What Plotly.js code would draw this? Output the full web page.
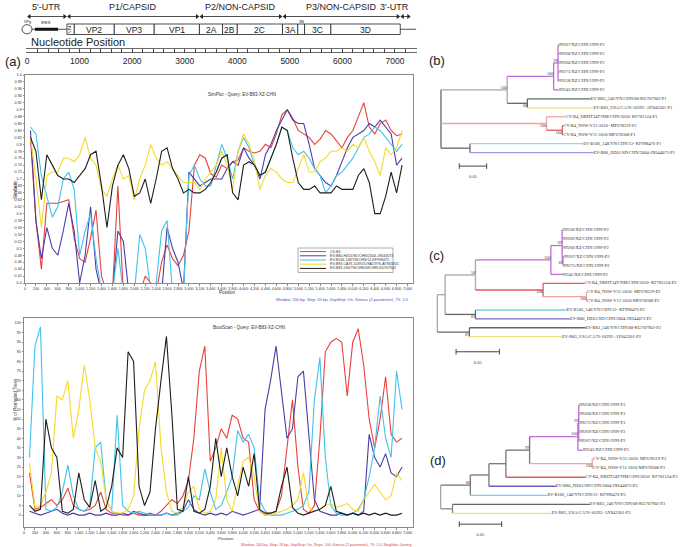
<!DOCTYPE html>
<html>
<head>
<meta charset="utf-8">
<script src="https://cdn.plot.ly/plotly-3.0.1.min.js"></script>
<style>
html,body{margin:0;padding:0;background:#fff;}
#chart{width:685px;height:547px;}
</style>
</head>
<body>
<div id="chart"></div>
<script>
// ================= DATA =================
// --- genome map ---
const regionNames = ["5'-UTR", "P1/CAPSID", "P2/NON-CAPSID", "P3/NON-CAPSID", "3'-UTR"];
const regionStart = [0, 760, 3280, 4860, 7100];
const regionEnd   = [760, 3280, 4860, 7100, 7300];
const geneNames = ["4", "VP2", "VP3", "VP1", "2A", "2B", "2C", "3A", "3B", "3C", "3D"];
const geneStart = [760, 900, 1660, 2420, 3280, 3720, 4000, 4860, 5150, 5280, 5780];
const geneEnd   = [900, 1660, 2420, 3280, 3720, 4000, 4860, 5150, 5280, 5780, 7100];
const iresStart = 150, iresEnd = 590, genomeTail = 7400;
const rulerTicks = [0, 1000, 2000, 3000, 4000, 5000, 6000, 7000];

// --- SimPlot / BootScan ---
const position = [100,200,300,400,500,600,700,800,900,1000,
  1100,1200,1300,1400,1500,1600,1700,1800,1900,2000,
  2100,2200,2300,2400,2500,2600,2700,2800,2900,3000,
  3100,3200,3300,3400,3500,3600,3700,3800,3900,4000,
  4100,4200,4300,4400,4500,4600,4700,4800,4900,5000,
  5100,5200,5300,5400,5500,5600,5700,5800,5900,6000,
  6100,6200,6300,6400,6500,6600,6700,6800,6900];
const seriesNames = ["CV-B4", "EV-B80-HZ01/SD/CHN/2004-JX644073", "EV-B106-148/YN/CHN/12-KF998475",
  "EV-B83-CA76-10392/USA/1976-AY843301", "EV-B83-246/YN/CHN/08/CHN-KU707902"];

const simCVB4 = [0.82,0.58,0.44,0.63,0.63,0.63,0.635,0.64,0.53,0.47,
  0.46,0.53,0.61,0.42,0.37,0.37,0.68,0.37,0.37,0.37,
  0.37,0.42,0.40,0.37,0.46,0.51,0.47,0.45,0.48,0.55,
  0.74,0.77,0.76,0.715,0.705,0.74,0.73,0.75,0.755,0.79,
  0.78,0.775,0.78,0.80,0.79,0.83,0.885,0.90,0.875,0.84,
  0.83,0.82,0.80,0.815,0.84,0.83,0.81,0.79,0.82,0.84,
  0.88,0.92,0.85,0.83,0.86,0.87,0.84,0.825,0.83];
const simEVB80 = [0.84,0.58,0.47,0.56,0.50,0.48,0.55,0.63,0.55,0.40,
  0.48,0.62,0.44,0.37,0.37,0.37,0.55,0.52,0.37,0.37,
  0.37,0.37,0.37,0.37,0.37,0.56,0.50,0.46,0.38,0.72,
  0.70,0.68,0.69,0.70,0.70,0.70,0.73,0.75,0.74,0.79,
  0.76,0.74,0.70,0.77,0.80,0.84,0.87,0.90,0.87,0.86,
  0.86,0.80,0.73,0.71,0.69,0.68,0.71,0.75,0.79,0.82,
  0.83,0.84,0.86,0.85,0.87,0.85,0.83,0.74,0.76];
const simEVB106 = [0.85,0.83,0.71,0.65,0.59,0.62,0.70,0.72,0.67,0.48,
  0.55,0.60,0.47,0.38,0.37,0.37,0.50,0.37,0.37,0.37,
  0.54,0.50,0.38,0.40,0.55,0.58,0.37,0.37,0.37,0.71,
  0.74,0.70,0.68,0.68,0.74,0.80,0.76,0.70,0.78,0.82,
  0.79,0.74,0.71,0.72,0.76,0.80,0.85,0.84,0.79,0.77,
  0.78,0.76,0.73,0.71,0.66,0.68,0.71,0.72,0.74,0.76,
  0.79,0.82,0.83,0.85,0.84,0.82,0.80,0.78,0.80];
const simEVB83CA = [0.82,0.70,0.56,0.71,0.72,0.72,0.76,0.76,0.75,0.77,
  0.82,0.76,0.74,0.67,0.65,0.70,0.74,0.70,0.71,0.64,
  0.70,0.74,0.80,0.76,0.74,0.75,0.73,0.71,0.69,0.69,
  0.69,0.67,0.70,0.72,0.74,0.78,0.74,0.67,0.78,0.83,
  0.80,0.75,0.67,0.71,0.73,0.72,0.70,0.69,0.69,0.73,
  0.77,0.72,0.72,0.75,0.76,0.78,0.78,0.79,0.78,0.80,
  0.79,0.82,0.78,0.75,0.71,0.79,0.77,0.79,0.84];
const simEVB83YN = [0.82,0.78,0.64,0.77,0.74,0.71,0.70,0.70,0.69,0.71,
  0.73,0.77,0.78,0.68,0.56,0.68,0.74,0.77,0.73,0.65,
  0.66,0.70,0.63,0.70,0.78,0.79,0.73,0.70,0.66,0.67,
  0.66,0.66,0.67,0.69,0.72,0.76,0.77,0.66,0.64,0.74,
  0.75,0.74,0.71,0.72,0.76,0.80,0.85,0.84,0.76,0.69,
  0.67,0.67,0.68,0.66,0.66,0.66,0.68,0.67,0.67,0.67,
  0.71,0.73,0.69,0.60,0.60,0.65,0.72,0.66,0.74];

const bootCVB4 = [22,3,4,6,8,5,8,14,5,3, 2,3,5,12,3,1,1,0,0,1, 0,0,1,0,2,5,8,6,10,18,
  40,75,88,28,35,45,40,52,50,40, 38,8,2,0,1,2,10,35,60,25, 3,1,5,40,85,90,92,90,62,90,
  97,78,50,35,50,72,42,38,40];
const bootEVB80 = [2,1,0,1,2,3,1,0,1,0, 0,1,0,0,1,0,0,1,0,2, 1,0,0,0,0,1,0,1,2,8,
  3,1,0,1,0,1,0,2,1,0, 1,2,3,55,70,88,65,40,45,72, 75,40,8,2,1,0,0,1,0,1,
  0,2,42,30,25,32,22,20,25];
const bootEVB106 = [30,88,98,3,2,4,12,26,10,3, 2,5,35,38,8,2,52,5,2,1, 2,1,0,0,0,1,0,0,2,4,
  10,8,24,12,3,5,12,20,44,38, 42,35,8,2,0,0,0,1,2,3, 5,12,60,82,30,5,1,0,0,1,
  3,8,20,35,62,40,30,75,55];
const bootEVB83CA = [27,4,5,12,22,62,60,70,40,55, 78,60,35,28,8,2,1,1,3,10, 45,65,70,80,35,12,2,1,4,12,
  15,3,1,2,8,35,8,2,15,28, 30,20,2,0,0,1,2,3,5,8, 22,4,2,3,5,6,4,5,6,3,
  2,8,12,16,12,8,10,22,18];
const bootEVB83YN = [5,2,3,50,35,30,2,1,3,22, 8,4,18,2,4,15,35,30,85,80, 15,5,12,45,70,93,52,3,2,20,
  2,1,3,15,40,20,35,20,10,25, 15,32,3,1,1,2,15,25,4,1, 0,1,2,3,5,15,2,1,0,1,
  0,1,0,1,0,1,0,0,1];

// --- phylogenetic trees (parent index, branch length, tip label, bootstrap) ---
const treeP1_parent = [-1,0,1,2,3,3,3,3,3,2,1,10,10,0,13,13,15,15,0,18,18];
const treeP1_length = [0,0.121,0.085,0.008,0.002,0.002,0.002,0.002,0.002,0.010,0.037,0.116,0.121,0.193,0.035,0.029,0.002,0.002,0.053,0.207,0.226];
const treeP1_label = ["","","","","99267/XZ/CHN/1999-P1","99268/XZ/CHN/1999-P1","99260/XZ/CHN/1999-P1","99275/XZ/CHN/1999-P1","99258/XZ/CHN/1999-P1","99245/XZ/CHN/1999-P1","",
  "EV-B83_246/YN/CHN/08-KU707902-P1","EV-B83_USA/CA76-10392- AY843301-P1","","CV-B4_HBHT34T/NM/CHN/2010- KF781524-P1","",
  "CV-B4_NSW-V31-2010- MF678319-P1","CV-B4_NSW-V11-2010-MF678308-P1","","EV-B106_148/YN/CHN/12- KF998476-P1","EV-B80_HZ01/SD/CHN/2004-JX644073-P1"];
const treeP1_boot = [null,100,100,99,null,null,null,null,null,null,88,null,null,100,null,100,null,null,null,null,null];

const treeP2_parent = [-1,0,1,2,3,4,4,4,4,8,8,3,2,12,12,14,14,1,17,17,0,20,20];
const treeP2_length = [0,0.009,0.035,0.087,0.013,0.001,0.001,0.001,0.001,0.001,0.001,0.013,0.078,0.048,0.050,0.001,0.001,0.035,0.105,0.109,0.037,0.134,0.107];
const treeP2_label = ["","","","","","99258/XZ/CHN/1999-P2","99269/XZ/CHN/1999-P2","99268/XZ/CHN/1999-P2","","99267/XZ/CHN/1999-P2","99275/XZ/CHN/1999-P2","99245/XZ/CHN/1999-P2",
  "","CV-B4_HBHT34T/NM/CHN/2010- KF781524-P2","","CV-B4_NSW-V31-2010- MF678319-P2","CV-B4_NSW-V11-2010-MF678308-P2",
  "","EV-B106_148/YN/CHN/12- KF998476-P2","EV-B80_HZ01/SD/CHN/2004-JX644073-P2","","EV-B83_246/YN/CHN/08-KU707902-P2","EV-B83_USA/CA76-10392- AY843301-P2"];
const treeP2_boot = [null,null,58,100,99,null,null,null,88,null,null,null,100,null,100,null,null,83,null,null,87,null,null];

const treeP3_parent = [-1,0,1,2,3,4,5,6,6,6,6,6,5,4,13,13,3,2,1,0,19,19];
const treeP3_length = [0,0.035,0.022,0.020,0.028,0.057,0.001,0.001,0.001,0.001,0.001,0.001,0.006,0.074,0.001,0.001,0.094,0.079,0.091,0.014,0.162,0.117];
const treeP3_label = ["","","","","","","","99258/XZ/CHN/1999-P3","99260/XZ/CHN/1999-P3","99275/XZ/CHN/1999-P3","99269/XZ/CHN/1999-P3","99267/XZ/CHN/1999-P3","99245/XZ/CHN/1999-P3",
  "","CV-B4_NSW-V31-2010- MF678319-P3","CV-B4_NSW-V11-2010-MF678308-P3","CV-B4_HBHT34T/NM/CHN/2010- KF781524-P3",
  "EV-B80_HZ01/SD/CHN/2004-JX644073-P3","EV-B106_148/YN/CHN/12- KF998476-P3","","EV-B83_246/YN/CHN/08-KU707902-P3","EV-B83_USA/CA76-10392- AY843301-P3"];
const treeP3_boot = [null,88,null,null,99,100,99,null,null,null,null,null,null,100,null,null,null,null,null,null,null,null];
const scaleBarLength = 0.05;

// ================= STYLE =================
const W = 685, H = 547;
const fx = x => x / W, fy = y => 1 - y / H;
const seriesColors = ['#e8413c', '#4b3ca8', '#3ec3ec', '#f5da2a', '#1e1e1e'];
const PUR = '#c46ad6', RED = '#e55a5a', PINK = '#f4a3a3', DG = '#666666', LG = '#a8a8a8', YEL = '#f0e27a', LB = '#72cfee';
const treeP1_color = [DG,LG,PUR,PUR,PUR,PUR,PUR,PUR,PUR,PUR,DG,DG,YEL,PINK,PINK,RED,RED,RED,DG,'#8fd8f0','#a699e4'];
const treeP1_side  = ['','t','t','t','','','','','','','b','','','b','','b','','','','',''];
const treeP2_color = [LG,LG,LG,PUR,PUR,PUR,PUR,PUR,PUR,PUR,PUR,PUR,RED,RED,PINK,PINK,PINK,DG,LB,'#7a6ad0',DG,DG,YEL];
const treeP2_side  = ['','','t','t','t','','','','b','','','','b','','b','','','b','','','b','',''];
const treeP3_color = [LG,'#777','#777','#777','#777',PUR,PUR,PUR,PUR,PUR,PUR,PUR,PUR,PINK,PINK,PINK,RED,'#6a5ac8',LB,'#888',DG,YEL];
const treeP3_side  = ['','t','','','t','t','t','','','','','','','b','','','','','','','',''];

const traces = [];
const shapes = [];
const ann = [];
const skip = {hoverinfo: 'skip', showlegend: false};
const BOX0 = 24, BOX1 = 34.5, BOXM = (BOX0 + BOX1) / 2;

// ---- genome map ----
geneNames.forEach((g, i) => {
  shapes.push({type: 'rect', xref: 'x', yref: 'y', x0: geneStart[i], x1: geneEnd[i], y0: BOX0, y1: BOX1,
    line: {color: '#222', width: 0.8}, fillcolor: '#fff', layer: 'above'});
  const mid = (geneStart[i] + geneEnd[i]) / 2;
  if (g === '3B') {
    ann.push({xref: 'x', yref: 'y', x: mid, y: BOX0 - 2.5, text: g, showarrow: false, font: {size: 4, color: '#222'}});
  } else if (g === '4') {
    ann.push({xref: 'x', yref: 'y', x: mid, y: BOXM, text: 'VP4', textangle: -90, showarrow: false, font: {size: 3.8, color: '#222'}});
  } else {
    ann.push({xref: 'x', yref: 'y', x: mid, y: BOXM + 0.3, text: g, showarrow: false, font: {size: 8.5, color: '#222'}});
  }
});
// backbone line, IRES, VPg, tail
shapes.push({type: 'line', xref: 'x', yref: 'y', x0: 95, x1: geneStart[0], y0: BOXM, y1: BOXM, line: {color: '#222', width: 0.8}, layer: 'below'});
shapes.push({type: 'rect', xref: 'x', yref: 'y', x0: iresStart, x1: iresEnd, y0: BOXM - 1.5, y1: BOXM + 1.5, line: {width: 0}, fillcolor: '#111'});
shapes.push({type: 'circle', xref: 'x', yref: 'y', x0: -95, x1: 95, y0: BOXM - 4.6, y1: BOXM + 4.6, line: {color: '#222', width: 0.8}, fillcolor: '#fff'});
shapes.push({type: 'line', xref: 'x', yref: 'y', x0: geneEnd[geneEnd.length - 1], x1: genomeTail, y0: BOXM, y1: BOXM, line: {color: '#222', width: 0.8}});
ann.push({xref: 'x', yref: 'y', x: 0, y: BOX0 - 2.5, text: 'VPg', showarrow: false, font: {size: 3.8, color: '#222'}});
ann.push({xref: 'x', yref: 'y', x: (iresStart + iresEnd) / 2, y: BOX0 - 2, text: 'IRES', showarrow: false, font: {size: 4, color: '#222'}});
// region arrows + labels
regionNames.forEach((r, i) => {
  traces.push(Object.assign({type: 'scatter', mode: 'lines+markers', xaxis: 'x', yaxis: 'y',
    x: [regionStart[i] + 45, regionEnd[i] - 45], y: [16.5, 16.5],
    line: {color: '#222', width: 0.8},
    marker: {symbol: ['triangle-left', 'triangle-right'], size: 4.5, color: '#222'}, cliponaxis: false}, skip));
  const last = i === regionNames.length - 1;
  ann.push({xref: 'x', yref: 'y', x: last ? regionEnd[i] : (regionStart[i] + regionEnd[i]) / 2, xanchor: last ? 'right' : 'center',
    y: 7, text: r, showarrow: false, font: {size: 9, color: '#222'}});
});
ann.push({xref: 'paper', yref: 'paper', x: fx(29), y: fy(42.3), xanchor: 'left', yanchor: 'middle', text: 'Nucleotide Position', showarrow: false, font: {size: 11, color: '#222'}});
// ruler (invisible anchor points at ruler ticks)
traces.push(Object.assign({type: 'scatter', mode: 'markers', xaxis: 'x2', yaxis: 'y2', x: rulerTicks, y: rulerTicks.map(() => 0.5), marker: {opacity: 0}}, skip));

// ---- SimPlot ----
const simSeries = [simCVB4, simEVB80, simEVB106, simEVB83CA, simEVB83YN];
simSeries.forEach((v, i) => traces.push(Object.assign({type: 'scatter', mode: 'lines', xaxis: 'x3', yaxis: 'y3',
  x: position, y: v, name: seriesNames[i], line: {color: seriesColors[i], width: 1.1}}, skip)));
// ---- BootScan ----
const bootSeries = [bootCVB4, bootEVB80, bootEVB106, bootEVB83CA, bootEVB83YN];
bootSeries.forEach((v, i) => traces.push(Object.assign({type: 'scatter', mode: 'lines', xaxis: 'x4', yaxis: 'y4',
  x: position, y: v, name: seriesNames[i], line: {color: seriesColors[i], width: 1.1}}, skip)));

// manual legend for SimPlot
shapes.push({type: 'rect', xref: 'paper', yref: 'paper', x0: fx(298), x1: fx(393), y0: fy(272.5), y1: fy(248), line: {color: '#999', width: 0.8}, fillcolor: '#fff'});
seriesNames.forEach((s, i) => {
  const yy = 251.6 + i * 4.2;
  shapes.push({type: 'line', xref: 'paper', yref: 'paper', x0: fx(300), x1: fx(326), y0: fy(yy), y1: fy(yy), line: {color: seriesColors[i], width: 1}});
  ann.push({xref: 'paper', yref: 'paper', x: fx(328), y: fy(yy), xanchor: 'left', yanchor: 'middle', text: s, showarrow: false, font: {size: 3.6, color: '#333'}});
});

// ---- trees ----
const SERIF = 'Liberation Serif, Times New Roman, serif';
function buildTree(parent, length, label, boot, colors, side, xa, ya, bar) {
  const n = parent.length, x = [], y = [], kids = parent.map(() => []);
  for (let i = 0; i < n; i++) if (parent[i] >= 0) kids[parent[i]].push(i);
  for (let i = 0; i < n; i++) x[i] = parent[i] < 0 ? 0 : x[parent[i]] + length[i];
  let leaf = 0;
  for (let i = 0; i < n; i++) if (!kids[i].length) y[i] = leaf++;
  for (let i = n - 1; i >= 0; i--) if (kids[i].length) {
    const ys = kids[i].map(k => y[k]); y[i] = (Math.min(...ys) + Math.max(...ys)) / 2;
  }
  const byColor = {};
  const add = (c, a, b) => {
    const g = byColor[c] = byColor[c] || {x: [], y: []};
    g.x.push(a[0], b[0], null); g.y.push(a[1], b[1], null);
  };
  for (let i = 0; i < n; i++) {
    if (parent[i] >= 0) add(colors[i], [x[parent[i]], y[i]], [x[i], y[i]]);
    if (kids[i].length) { const ys = kids[i].map(k => y[k]); add(colors[i], [x[i], Math.min(...ys)], [x[i], Math.max(...ys)]); }
  }
  Object.keys(byColor).forEach(c => traces.push(Object.assign({type: 'scatter', mode: 'lines', xaxis: xa, yaxis: ya,
    x: byColor[c].x, y: byColor[c].y, line: {color: c, width: 1.3}}, skip)));
  const lx = [], ly = [], lt = [];
  for (let i = 0; i < n; i++) if (!kids[i].length) { lx.push(x[i]); ly.push(y[i]); lt.push(label[i]); }
  traces.push(Object.assign({type: 'scatter', mode: 'text', xaxis: xa, yaxis: ya, x: lx, y: ly, text: lt,
    textposition: 'middle right', cliponaxis: false,
    textfont: {family: SERIF, size: 4.5, color: '#333'}}, skip));
  [['t', 'top left'], ['b', 'bottom left']].forEach(([s, pos]) => {
    const bx = [], by = [], bt = [];
    for (let i = 0; i < n; i++) if (boot[i] != null && side[i] === s) { bx.push(x[i]); by.push(y[i]); bt.push(String(boot[i])); }
    if (bx.length) traces.push(Object.assign({type: 'scatter', mode: 'text', xaxis: xa, yaxis: ya, x: bx, y: by, text: bt,
      textposition: pos, cliponaxis: false,
      textfont: {family: SERIF, size: 4.5, color: '#444'}}, skip));
  });
  // scale bar
  traces.push(Object.assign({type: 'scatter', mode: 'lines+markers', xaxis: xa, yaxis: ya,
    x: [bar[0], bar[0] + scaleBarLength], y: [bar[1], bar[1]], line: {color: '#444', width: 1},
    marker: {symbol: 'line-ns-open', size: 4, color: '#444', line: {color: '#444', width: 1}}}, skip));
  traces.push(Object.assign({type: 'scatter', mode: 'text', xaxis: xa, yaxis: ya,
    x: [bar[0] + scaleBarLength / 2], y: [bar[1] + 1.2], text: [scaleBarLength.toFixed(2)], textposition: 'middle center',
    textfont: {family: SERIF, size: 4.5, color: '#444'}}, skip));
}
buildTree(treeP1_parent, treeP1_length, treeP1_label, treeP1_boot, treeP1_color, treeP1_side, 'x5', 'y5', [0.0335, 13.5]);
buildTree(treeP2_parent, treeP2_length, treeP2_label, treeP2_boot, treeP2_color, treeP2_side, 'x6', 'y6', [0.0216, 13.7]);
buildTree(treeP3_parent, treeP3_length, treeP3_label, treeP3_boot, treeP3_color, treeP3_side, 'x7', 'y7', [0.022, 13.2]);

// ---- text annotations for panels ----
const small = {size: 4.5, color: '#333'};
ann.push({xref: 'paper', yref: 'paper', x: fx(206), y: fy(90), text: 'SimPlot - Query: EV-B83-XZ-CHN', showarrow: false, font: small});
ann.push({xref: 'paper', yref: 'paper', x: fx(211), y: fy(327), text: 'BootScan - Query: EV-B83-XZ-CHN', showarrow: false, font: small});
ann.push({xref: 'paper', yref: 'paper', x: fx(11), y: fy(178), text: 'Similarity', textangle: -90, showarrow: false, font: small});
ann.push({xref: 'paper', yref: 'paper', x: fx(11), y: fy(423), text: '% of Permuted Trees', textangle: -90, showarrow: false, font: small});
ann.push({xref: 'paper', yref: 'paper', x: fx(217), y: fy(292.8), yanchor: 'middle', text: 'Position', showarrow: false, font: small});
ann.push({xref: 'paper', yref: 'paper', x: fx(216), y: fy(538.3), yanchor: 'middle', text: 'Position', showarrow: false, font: {size: 4.3, color: '#333'}});
ann.push({xref: 'paper', yref: 'paper', x: fx(411), y: fy(299), xanchor: 'right', text: 'Window: 200 bp, Step: 20 bp, GapStrip: On, Kimura (2-parameter), T/t: 2.0', showarrow: false, font: {size: 4, color: '#4a4ac8'}});
ann.push({xref: 'paper', yref: 'paper', x: fx(413), y: fy(544.8), xanchor: 'right', yanchor: 'middle', text: 'Window: 200 bp, Step: 20 bp, GapStrip: On, Reps: 100, Kimura (2-parameter), T/t: 2.0, Neighbor-Joining', showarrow: false, font: {size: 3.7, color: '#e84040'}});
const panelFont = {size: 13, color: '#222', family: 'Liberation Sans, Arial, sans-serif'};
[['(a)', 3, 62], ['(b)', 427, 60], ['(c)', 427, 255], ['(d)', 428, 460]].forEach(([t, x, y]) =>
  ann.push({xref: 'paper', yref: 'paper', x: fx(x), y: fy(y), xanchor: 'left', yanchor: 'middle', text: t, showarrow: false, font: panelFont}));

// ---- axes ----
const simY = [], simYt = [];
for (let k = 0; k <= 30; k++) { const v = +(0.4 + k * 0.02).toFixed(2); simY.push(v); let s = v.toFixed(2); if (s.endsWith('0')) s = s.slice(0, -1); simYt.push(s); }
const bootY = []; for (let k = 0; k <= 20; k++) bootY.push(k * 5);
const frame = {showline: true, linecolor: '#8a8a8a', linewidth: 1, mirror: true, showgrid: false, zeroline: false,
  ticks: 'outside', ticklen: 1.5, tickcolor: '#8a8a8a', tickangle: 0, tickfont: {size: 3.7, color: '#333'}};
const hidden = {visible: false, showgrid: false, zeroline: false};

const layout = {
  width: W, height: H, margin: {l: 0, r: 0, t: 0, b: 0},
  paper_bgcolor: '#fff', plot_bgcolor: 'rgba(0,0,0,0)', showlegend: false,
  font: {family: 'Liberation Sans, Arial, sans-serif', color: '#222'},
  xaxis: Object.assign({domain: [0, 0.62], range: [-513.6, 7565], anchor: 'y'}, hidden),
  yaxis: Object.assign({domain: [fy(62), 1], range: [62, 0], anchor: 'x'}, hidden),
  xaxis2: {domain: [fx(26), fx(417)], range: [-19, 7419], anchor: 'y2', showline: true, linecolor: '#444', linewidth: 0.8,
    mirror: 'ticks', ticks: 'inside', ticklen: 4, tickcolor: '#444', tickmode: 'array', tickvals: rulerTicks, tickangle: 0,
    tickfont: {size: 8.5, color: '#222'}, showgrid: false, zeroline: false,
    minor: {ticks: 'inside', ticklen: 4, dtick: 200, tick0: 0, tickcolor: '#444', showgrid: false}},
  yaxis2: Object.assign({domain: [fy(52.5), fy(48.5)], range: [0, 1], anchor: 'x2'}, hidden),
  xaxis3: Object.assign({domain: [fx(25), fx(413)], range: [0, 7100], anchor: 'y3', tickmode: 'linear', tick0: 0, dtick: 200, tickformat: ',d'}, frame),
  yaxis3: Object.assign({domain: [fy(283), fy(75)], range: [0.4, 1.0], anchor: 'x3', tickmode: 'array', tickvals: simY, ticktext: simYt}, frame),
  xaxis4: Object.assign({domain: [fx(24), fx(413)], range: [0, 7100], anchor: 'y4', tickmode: 'linear', tick0: 0, dtick: 200, tickformat: ',d'}, frame),
  yaxis4: Object.assign({domain: [fy(527), fy(318)], range: [-6.2, 102.6], anchor: 'x4', tickmode: 'array', tickvals: bootY}, frame),
  xaxis5: Object.assign({domain: [fx(420), 1], range: [-0.0384, 0.4463], anchor: 'y5'}, hidden),
  yaxis5: Object.assign({domain: [fy(200), fy(20)], range: [17.28, -2.79], anchor: 'x5'}, hidden),
  xaxis6: Object.assign({domain: [fx(420), 1], range: [-0.0200, 0.2858], anchor: 'y6'}, hidden),
  yaxis6: Object.assign({domain: [fy(370), fy(200)], range: [15.75, -3.37], anchor: 'x6'}, hidden),
  xaxis7: Object.assign({domain: [fx(420), 1], range: [-0.0244, 0.2885], anchor: 'y7'}, hidden),
  yaxis7: Object.assign({domain: [0, fy(370)], range: [15.73, -3.88], anchor: 'x7'}, hidden),
  shapes: shapes,
  annotations: ann
};

Plotly.newPlot('chart', traces, layout, {displayModeBar: false, staticPlot: true});
</script>
</body>
</html>
